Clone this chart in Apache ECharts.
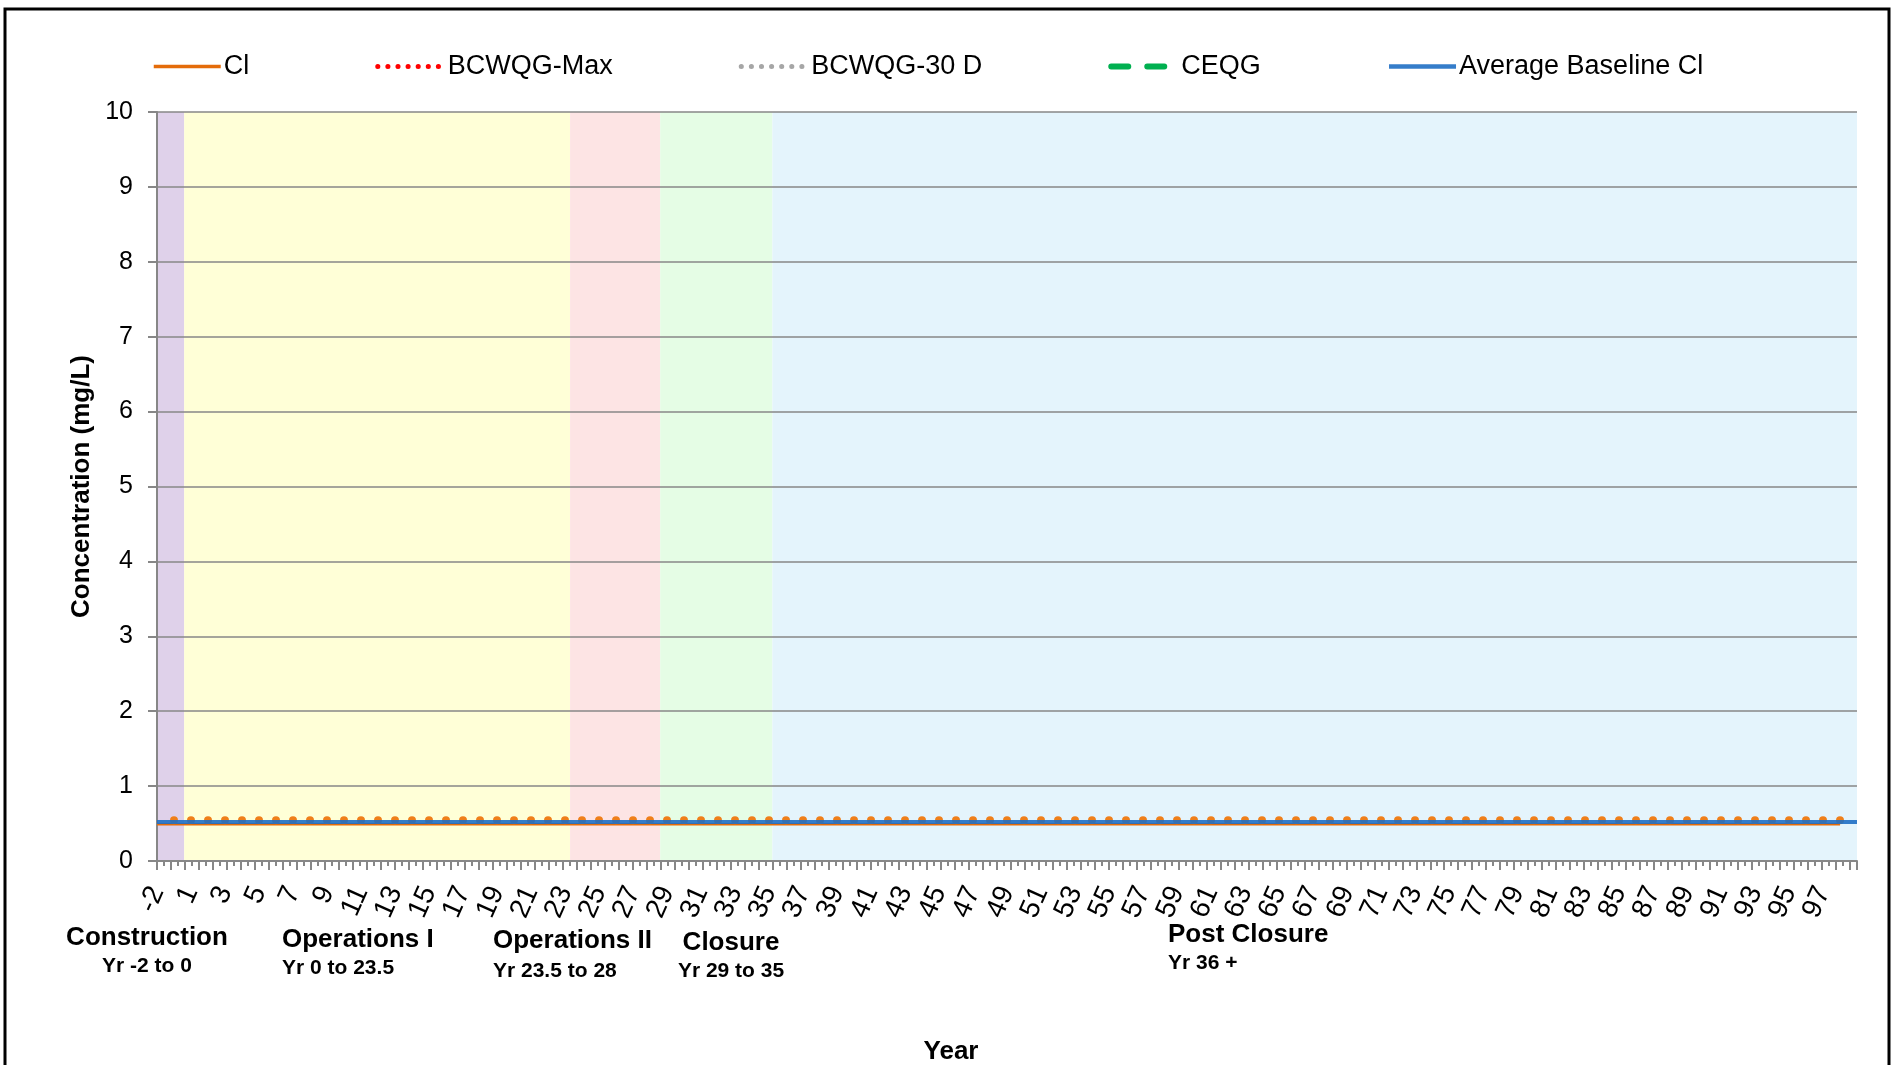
<!DOCTYPE html>
<html>
<head>
<meta charset="utf-8">
<title>Cl concentration</title>
<script src="https://cdn.jsdelivr.net/npm/echarts@6/dist/echarts.min.js"></script>
<style>
  html, body { margin: 0; padding: 0; background: #fff; }
  #main { width: 1900px; height: 1065px; }
</style>
</head>
<body>
<div id="main"></div>
<script>
// x categories (year)
var years = ['-2', '0', '1', '2', '3', '4', '5', '6', '7', '8', '9',
  '10', '11', '12', '13', '14', '15', '16', '17', '18', '19',
  '20', '21', '22', '23', '24', '25', '26', '27', '28', '29',
  '30', '31', '32', '33', '34', '35', '36', '37', '38', '39',
  '40', '41', '42', '43', '44', '45', '46', '47', '48', '49',
  '50', '51', '52', '53', '54', '55', '56', '57', '58', '59',
  '60', '61', '62', '63', '64', '65', '66', '67', '68', '69',
  '70', '71', '72', '73', '74', '75', '76', '77', '78', '79',
  '80', '81', '82', '83', '84', '85', '86', '87', '88', '89',
  '90', '91', '92', '93', '94', '95', '96', '97', '98', '99'];

// Cl (mg/L), one value per year, no value for the last year
var clValues = [0.49, 0.49, 0.49, 0.49, 0.49, 0.49, 0.49, 0.49, 0.49, 0.49, 0.49,
  0.49, 0.49, 0.49, 0.49, 0.49, 0.49, 0.49, 0.49, 0.49, 0.49,
  0.49, 0.49, 0.49, 0.49, 0.49, 0.49, 0.49, 0.49, 0.49, 0.49,
  0.49, 0.49, 0.49, 0.49, 0.49, 0.49, 0.49, 0.49, 0.49, 0.49,
  0.49, 0.49, 0.49, 0.49, 0.49, 0.49, 0.49, 0.49, 0.49, 0.49,
  0.49, 0.49, 0.49, 0.49, 0.49, 0.49, 0.49, 0.49, 0.49, 0.49,
  0.49, 0.49, 0.49, 0.49, 0.49, 0.49, 0.49, 0.49, 0.49, 0.49,
  0.49, 0.49, 0.49, 0.49, 0.49, 0.49, 0.49, 0.49, 0.49, 0.49,
  0.49, 0.49, 0.49, 0.49, 0.49, 0.49, 0.49, 0.49, 0.49, 0.49,
  0.49, 0.49, 0.49, 0.49, 0.49, 0.49, 0.49, 0.49, 0.49, null];

var baselineValues = [0.52, 0.52, 0.52, 0.52, 0.52, 0.52, 0.52, 0.52, 0.52, 0.52, 0.52,
  0.52, 0.52, 0.52, 0.52, 0.52, 0.52, 0.52, 0.52, 0.52, 0.52,
  0.52, 0.52, 0.52, 0.52, 0.52, 0.52, 0.52, 0.52, 0.52, 0.52,
  0.52, 0.52, 0.52, 0.52, 0.52, 0.52, 0.52, 0.52, 0.52, 0.52,
  0.52, 0.52, 0.52, 0.52, 0.52, 0.52, 0.52, 0.52, 0.52, 0.52,
  0.52, 0.52, 0.52, 0.52, 0.52, 0.52, 0.52, 0.52, 0.52, 0.52,
  0.52, 0.52, 0.52, 0.52, 0.52, 0.52, 0.52, 0.52, 0.52, 0.52,
  0.52, 0.52, 0.52, 0.52, 0.52, 0.52, 0.52, 0.52, 0.52, 0.52,
  0.52, 0.52, 0.52, 0.52, 0.52, 0.52, 0.52, 0.52, 0.52, 0.52,
  0.52, 0.52, 0.52, 0.52, 0.52, 0.52, 0.52, 0.52, 0.52, 0.52];

// guideline series sit above the 10 mg/L axis limit, nothing of them shows in the plot
var bcwqgMax = [];
var bcwqg30d = [];
var ceqg = [];

// project phases (band edges in year positions)
var phaseNames = ['Construction', 'Operations I', 'Operations II', 'Closure', 'Post Closure'];
var phaseRanges = ['Yr -2 to 0', 'Yr 0 to 23.5', 'Yr 23.5 to 28', 'Yr 29 to 35', 'Yr 36 +'];
var phaseStart = [-1, 0.6, 23.3, 28.6, 35.2];
var phaseEnd = [0.6, 23.3, 28.6, 35.2, 99];

var bandColors = ['#dfd1ea', '#ffffd7', '#fde4e4', '#e5fde5', '#e4f4fc'];
// label placement: [x, y of name, y of range, align]
var phaseLayout = [[147, 938, 966, 'center'], [282, 940, 968, 'left'], [493, 941, 971, 'left'],
  [731, 943, 971, 'center'], [1168, 935, 963, 'left']];

var font = "'Liberation Sans', Arial, sans-serif";
var gray = '#878787';

var chart = echarts.init(document.getElementById('main'));

var bands = phaseNames.map(function (n, i) {
  return [{ xAxis: phaseStart[i], itemStyle: { color: bandColors[i] } }, { xAxis: phaseEnd[i] }];
});

function label(x, y, text, size, align) {
  return { type: 'text', x: x, y: y, style: {
    text: text, font: 'bold ' + size + 'px ' + font, fill: '#000',
    align: align, verticalAlign: 'middle', textAlign: align, textVerticalAlign: 'middle' } };
}

var graphics = [{
  type: 'rect', silent: true, z: 100,
  shape: { x: 5, y: 9, width: 1884, height: 1075 },
  style: { fill: 'none', stroke: '#000', lineWidth: 3 }
}, label(951, 1052, 'Year', 26, 'center')];
phaseNames.forEach(function (n, i) {
  var p = phaseLayout[i];
  graphics.push(label(p[0], p[1], n, 26, p[3]));
  graphics.push(label(p[0], p[2], phaseRanges[i], 21, p[3]));
});

var option = {
  animation: false,
  backgroundColor: '#fff',
  textStyle: { fontFamily: font },
  legend: {
    top: 48, left: 147, itemGap: 126, itemWidth: 67, itemHeight: 14,
    itemStyle: { opacity: 0 },
    textStyle: { fontSize: 27, color: '#000', fontFamily: font, padding: [0, 0, 0, -2] },
    data: [
      { name: 'Cl', lineStyle: { width: 3.5 } },
      { name: 'BCWQG-Max', lineStyle: { width: 5, type: [0.1, 10], cap: 'round' } },
      { name: 'BCWQG-30 D', lineStyle: { width: 5, type: [0.1, 10], cap: 'round' } },
      { name: 'CEQG', lineStyle: { width: 6, type: [17, 19], cap: 'round' } },
      { name: 'Average Baseline Cl', lineStyle: { width: 4.5 } }
    ]
  },
  grid: { left: 157, right: 43, top: 112, bottom: 204, outerBoundsMode: 'none', containLabel: false },
  xAxis: [{
    type: 'category', data: years, boundaryGap: false, position: 'bottom', z: 2,
    axisLine: { onZero: false, lineStyle: { color: gray, width: 2 } },
    axisTick: { show: false },
    axisLabel: {
      rotate: 66, margin: 27, fontSize: 28, color: '#000', fontFamily: font,
      interval: function (idx) { return idx % 2 === 0 && idx < 100; }
    }
  }, {
    // phase band positions
    type: 'value', min: -1, max: 99, show: false, position: 'bottom'
  }, {
    // Excel-style dense tick marks
    type: 'value', min: 0, max: 121.5, interval: 1, position: 'bottom', z: 2,
    axisLine: { show: false, onZero: false },
    axisLabel: { show: false },
    splitLine: { show: false },
    axisTick: { show: true, length: 9, lineStyle: { color: gray, width: 2 } },
    minorTick: { show: true, splitNumber: 2, length: 5, lineStyle: { color: gray, width: 2 } }
  }],
  yAxis: {
    type: 'value', min: 0, max: 10, interval: 1, z: 2,
    name: 'Concentration (mg/L)', nameLocation: 'middle', nameGap: 62, nameMoveOverlap: false,
    nameTextStyle: { fontSize: 26, fontWeight: 'bold', color: '#000', fontFamily: font },
    axisLine: { show: true, onZero: false, lineStyle: { color: gray, width: 2 } },
    axisTick: { show: true, length: 9, lineStyle: { color: gray, width: 2 } },
    axisLabel: { fontSize: 25, color: '#000', margin: 24, fontFamily: font },
    splitLine: { lineStyle: { color: gray, width: 1.5 } }
  },
  series: [{
    name: 'phases', type: 'line', xAxisIndex: 1, data: [], z: 0, silent: true,
    markArea: { silent: true, z: 0, data: bands }
  }, {
    name: 'Cl', type: 'line', data: clValues, z: 3,
    symbol: function (v, p) { return p.dataIndex === 0 ? 'none' : 'circle'; },
    symbolSize: 8, symbolOffset: [0, -4], showAllSymbol: true,
    lineStyle: { color: '#e46c0a', width: 2.5 },
    itemStyle: { color: '#ef7f1a', borderWidth: 0 }
  }, {
    name: 'BCWQG-Max', type: 'line', data: bcwqgMax, symbol: 'none', z: 3,
    lineStyle: { color: '#ff0000', width: 4, type: [4, 6] }, itemStyle: { color: '#ff0000' }
  }, {
    name: 'BCWQG-30 D', type: 'line', data: bcwqg30d, symbol: 'none', z: 3,
    lineStyle: { color: '#a6a6a6', width: 4, type: [4, 6] }, itemStyle: { color: '#a6a6a6' }
  }, {
    name: 'CEQG', type: 'line', data: ceqg, symbol: 'none', z: 3,
    lineStyle: { color: '#00b050', width: 6, type: [18, 18] }, itemStyle: { color: '#00b050' }
  }, {
    name: 'Average Baseline Cl', type: 'line', data: baselineValues, symbol: 'none', z: 4,
    lineStyle: { color: '#1f6fc4', width: 4, opacity: 0.9 }, itemStyle: { color: '#1f6fc4' }
  }],
  graphic: graphics
};
chart.setOption(option);
</script>
</body>
</html>
